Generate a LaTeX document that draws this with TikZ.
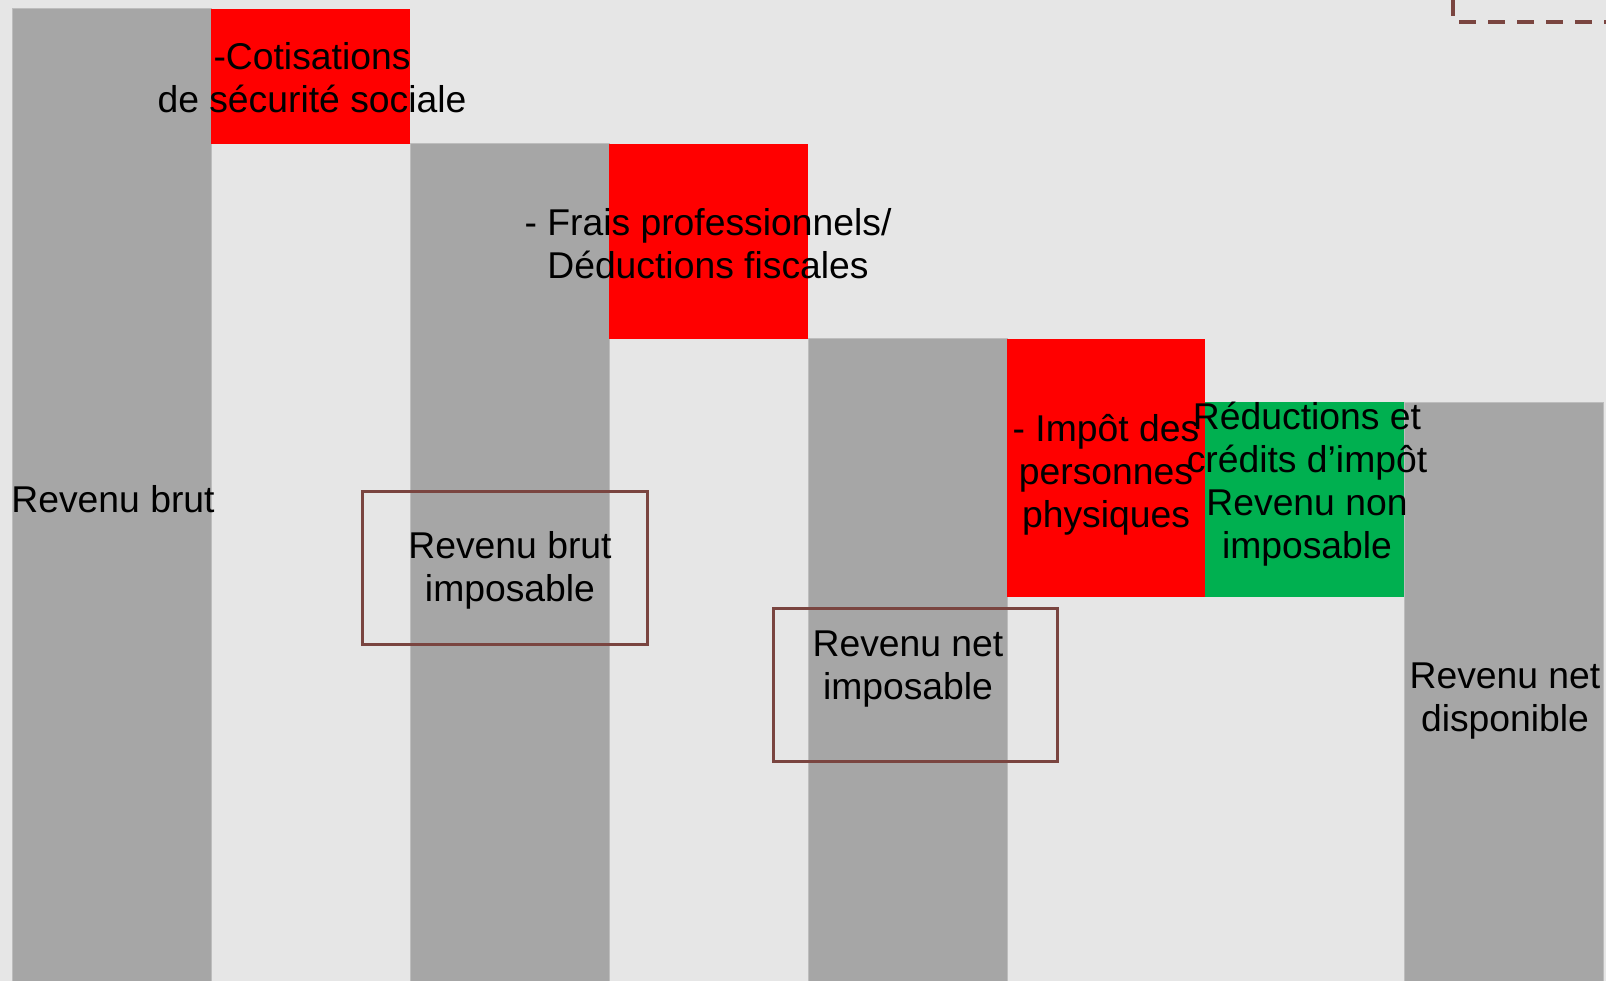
\documentclass[tikz,border=0pt]{standalone}
\usepackage{fontspec}
\setmainfont{Liberation Sans}
\definecolor{bg}{HTML}{E6E6E6}
\definecolor{bar}{HTML}{A6A6A6}
\definecolor{baredge}{HTML}{BDBDBD}
\definecolor{minus}{HTML}{FF0000}
\definecolor{plus}{HTML}{00B050}
\definecolor{frame}{HTML}{7A4540}
\tikzset{
  barbox/.style={fill=bar, draw=baredge, line width=1pt},
  minusbox/.style={fill=minus},
  plusbox/.style={fill=plus},
  framebox/.style={draw=frame, line width=3pt},
  lbl/.style={align=center, inner sep=0pt, font=\fontsize{37.3}{43}\selectfont, text=black},
}
\begin{document}
\begin{tikzpicture}[x=1pt,y=-1pt]
\fill[bg] (0,0) rectangle (1606,981);
\useasboundingbox (0,0) rectangle (1606,981);
% bars
\path[barbox] (12,9) rectangle (211,985);
\path[minusbox] (211,9) rectangle (410,144);
\path[barbox] (410,144) rectangle (609,985);
\path[minusbox] (609,144) rectangle (808,339);
\path[barbox] (808,339) rectangle (1007,985);
\path[minusbox] (1007,339) rectangle (1205,597);
\path[plusbox] (1205,402) rectangle (1404,597);
\path[barbox] (1404,402) rectangle (1603,985);
% frames
\draw[framebox] (362,491) rectangle (647,644);
\draw[framebox] (773,608) rectangle (1057,761);
\draw[draw=frame, line width=3.5pt, dash pattern=on 17pt off 12pt] (1453,-30) -- (1453,22) -- (1650,22);
% labels
\node[lbl] (brut) at (113,499) {Revenu brut};
\node[lbl] (cotis) at (312,78) {-Cotisations\\de sécurité sociale};
\node[lbl] (frais) at (708,244) {- Frais professionnels/\\Déductions fiscales};
\node[lbl] (ipp) at (1106,475) {- Impôt des\\personnes\\physiques};
\node[lbl] (reduc) at (1307,484) {Réductions et\\crédits d’impôt\\Revenu non\\imposable};
\node[lbl] (bimp) at (510,570) {Revenu brut\\imposable};
\node[lbl] (nimp) at (908,669) {Revenu net\\imposable};
\node[lbl] (ndisp) at (1505,701) {Revenu net\\disponible};
\end{tikzpicture}
\end{document}
